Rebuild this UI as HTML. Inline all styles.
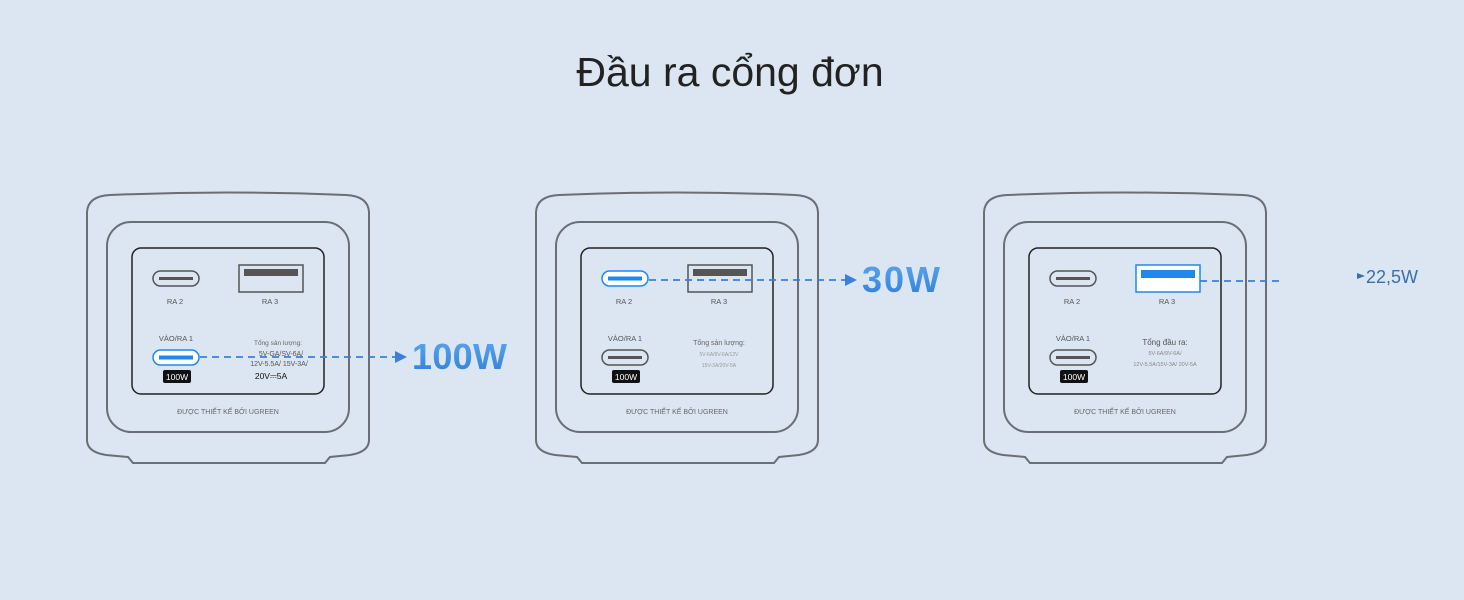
<!DOCTYPE html>
<html><head><meta charset="utf-8"><style>
html,body{margin:0;padding:0;background:#dbe6f2;}
svg{display:block}
text{font-family:"Liberation Sans",sans-serif;}
</style></head><body>
<svg width="1464" height="600" viewBox="0 0 1464 600" xmlns="http://www.w3.org/2000/svg">
<defs>
<linearGradient id="g" x1="0" y1="0" x2="0" y2="1"><stop offset="0" stop-color="#5ea8f0"/><stop offset="1" stop-color="#2f7fd8"/></linearGradient>
<g id="dev">
  <path d="M87,212 Q88,196 110,195 Q228,190 346,195 Q368,196 369,212 L369,440 Q369,452 350,455 L330,457 L325,463 L133,463 L128,457 L106,455 Q87,452 87,440 Z" fill="#dbe6f2" stroke="#6b6e74" stroke-width="2"/>
  <rect x="107" y="222" width="242" height="210" rx="24" fill="none" stroke="#6b6e74" stroke-width="2"/>
  <rect x="132" y="248" width="192" height="146" rx="9" fill="none" stroke="#222" stroke-width="1.5"/>
  <text x="175" y="304" font-size="7.5" fill="#555" text-anchor="middle">RA 2</text>
  <text x="270" y="304" font-size="7.5" fill="#555" text-anchor="middle">RA 3</text>
  <text x="176" y="341" font-size="7.5" fill="#555" text-anchor="middle">VÀO/RA 1</text>
  <rect x="163" y="370" width="28" height="13" rx="2" fill="#111"/>
  <text x="177" y="380" font-size="8.5" fill="#fff" text-anchor="middle">100W</text>
  <text x="228" y="414" font-size="7" fill="#666" text-anchor="middle">ĐƯỢC THIẾT KẾ BỞI UGREEN</text>
</g>
<g id="cport"><rect x="0" y="0" width="46" height="15" rx="7.5" fill="none" stroke="#555" stroke-width="1.5"/><rect x="6" y="6" width="34" height="3" fill="#555"/></g>
<g id="cportb"><rect x="0" y="0" width="46" height="15" rx="7.5" fill="#fff" stroke="#1e88f0" stroke-width="1.5"/><rect x="6" y="5.5" width="34" height="4" fill="#1e88f0"/></g>
<g id="aport"><rect x="0" y="0" width="64" height="27" fill="none" stroke="#555" stroke-width="1.5"/><rect x="5" y="4" width="54" height="7" fill="#555"/></g>
</defs>

<text x="730" y="86" font-size="41" fill="#222" text-anchor="middle">Đầu ra cổng đơn</text>

<!-- Device 1 -->
<use href="#dev"/>
<use href="#cport" x="153" y="271"/>
<use href="#aport" x="239" y="265"/>
<use href="#cportb" x="153" y="350"/>
<text x="278" y="345" font-size="6.5" fill="#666" text-anchor="middle">Tổng sản lượng:</text>
<text x="281" y="356" font-size="7" fill="#555" text-anchor="middle">5V-GA/SV-6A/</text>
<text x="279" y="366" font-size="7" fill="#555" text-anchor="middle">12V-5.5A/ 15V-3A/</text>
<text x="271" y="379" font-size="8.5" fill="#111" text-anchor="middle">20V⎓5A</text>
<line x1="200" y1="357" x2="396" y2="357" stroke="#3b7fd8" stroke-width="1.8" stroke-dasharray="7,5"/>
<path d="M395,351 L407,357 L395,363 Z" fill="#3b7fd8"/>
<text x="412" y="369" font-size="36" font-weight="bold" fill="url(#g)" textLength="95">100W</text>

<!-- Device 2 -->
<g transform="translate(449,0)"><use href="#dev"/>
<use href="#cportb" x="153" y="271"/>
<use href="#aport" x="239" y="265"/>
<use href="#cport" x="153" y="350"/>
<text x="270" y="345" font-size="7" fill="#666" text-anchor="middle">Tổng sản lượng:</text>
<text x="270" y="356" font-size="5" fill="#999" text-anchor="middle">5V-6A/9V-6A/12V</text>
<text x="270" y="367" font-size="5" fill="#999" text-anchor="middle">15V-3A/20V-5A</text>
</g>
<line x1="649" y1="280" x2="846" y2="280" stroke="#3b7fd8" stroke-width="1.8" stroke-dasharray="7,5"/>
<path d="M845,274 L857,280 L845,286 Z" fill="#3b7fd8"/>
<text x="862" y="292" font-size="36" font-weight="bold" fill="url(#g)" textLength="78">30W</text>

<!-- Device 3 -->
<g transform="translate(897,0)"><use href="#dev"/>
<use href="#cport" x="153" y="271"/>
<rect x="239" y="265" width="64" height="27" fill="#fff" stroke="#1e88f0" stroke-width="1.5"/>
<rect x="244" y="270" width="54" height="8" fill="#1e88f0"/>
<use href="#cport" x="153" y="350"/>
<text x="268" y="345" font-size="8" fill="#555" text-anchor="middle">Tổng đầu ra:</text>
<text x="268" y="355" font-size="5.5" fill="#888" text-anchor="middle">5V-6A/9V-6A/</text>
<text x="268" y="366" font-size="5.5" fill="#888" text-anchor="middle">12V-5.5A/15V-3A/ 20V-5A</text>
</g>
<line x1="1200" y1="281" x2="1279" y2="281" stroke="#3b7fd8" stroke-width="1.8" stroke-dasharray="7,5"/>
<path d="M1357,273 L1365,276 L1357,279 Z" fill="#3b6fa8"/>
<text x="1366" y="283" font-size="18" fill="#3b6fa8">22,5W</text>
</svg>
</body></html>
